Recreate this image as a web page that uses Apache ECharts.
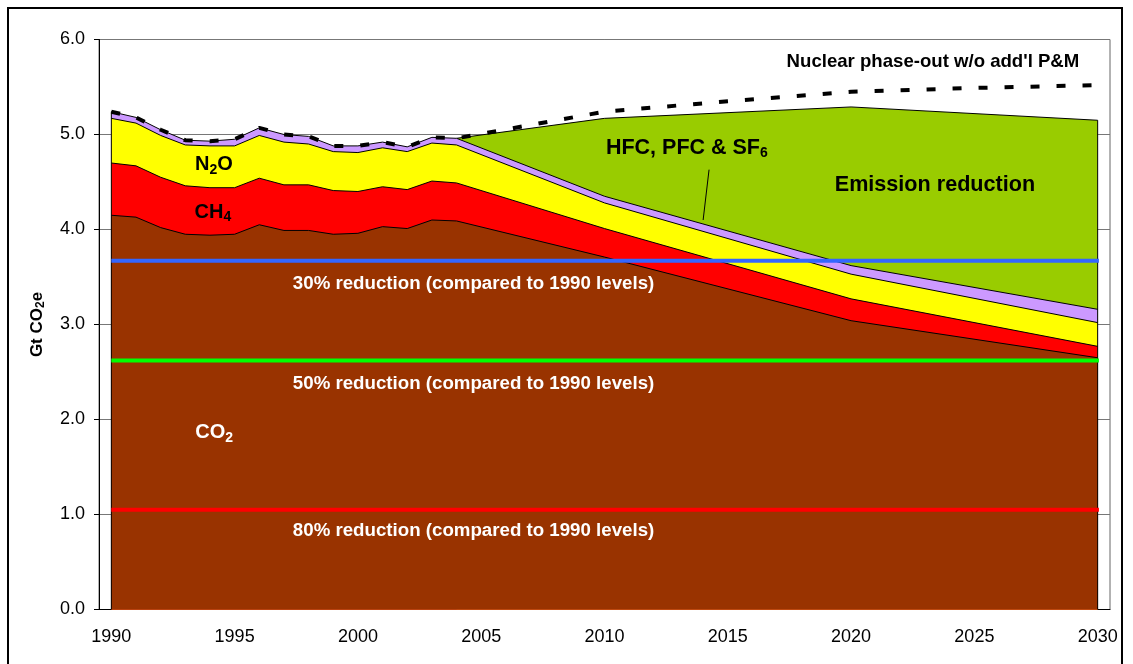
<!DOCTYPE html>
<html>
<head>
<meta charset="utf-8">
<script src="https://cdn.jsdelivr.net/npm/echarts@6/dist/echarts.min.js"></script>
<style>
  html, body { margin: 0; padding: 0; background: #fff; }
  #chart { width: 1133px; height: 664px; }
</style>
</head>
<body>
<div id="chart"></div>
<script>
// years with data points (history yearly, projections every 10 years)
const years = [1990, 1991, 1992, 1993, 1994, 1995, 1996, 1997, 1998, 1999, 2000, 2001, 2002, 2003, 2004, 2010, 2020, 2030];
const co2  = [4.15, 4.13, 4.02, 3.95, 3.94, 3.95, 4.05, 3.99, 3.99, 3.95, 3.96, 4.03, 4.01, 4.10, 4.09, 3.71, 3.04, 2.65];
const ch4  = [0.55, 0.54, 0.53, 0.51, 0.50, 0.49, 0.49, 0.48, 0.48, 0.46, 0.44, 0.42, 0.41, 0.41, 0.40, 0.30, 0.23, 0.12];
const n2o  = [0.47, 0.45, 0.44, 0.43, 0.44, 0.44, 0.45, 0.45, 0.43, 0.41, 0.41, 0.41, 0.40, 0.40, 0.40, 0.27, 0.26, 0.25];
const fgas = [0.07, 0.06, 0.06, 0.05, 0.05, 0.07, 0.08, 0.08, 0.08, 0.06, 0.07, 0.06, 0.05, 0.06, 0.07, 0.07, 0.09, 0.14];

// reference scenario (top of the "Emission reduction" wedge)
const refYears  = [2004, 2010, 2020, 2030];
const refValues = [4.96, 5.17, 5.29, 5.15];

// nuclear phase-out w/o additional P&M
const nuclearYears  = [1990, 1991, 1992, 1993, 1994, 1995, 1996, 1997, 1998, 1999, 2000, 2001, 2002, 2003, 2004, 2010, 2015, 2020, 2025, 2030];
const nuclearValues = [5.24, 5.18, 5.05, 4.94, 4.93, 4.95, 5.07, 5.00, 4.98, 4.88, 4.88, 4.92, 4.87, 4.97, 4.96, 5.24, 5.35, 5.45, 5.49, 5.52];

// reduction targets
const targetValues = [3.67, 2.62, 1.05];
const targetLabels = ['30% reduction (compared to 1990 levels)', '50% reduction (compared to 1990 levels)', '80% reduction (compared to 1990 levels)'];
const targetColors = ['#3366FF', '#00FF00', '#FF0000'];

// axis tick labels
const axisYears = [];
for (let y = 1990; y <= 2030; y++) axisYears.push(String(y));

const FONT = '"Liberation Sans", Arial, sans-serif';
const chart = echarts.init(document.getElementById('chart'));

const pairs = (xs, vs) => xs.map((x, i) => [x, vs[i]]);

// cumulative stack tops (CO2 at the bottom)
const gases = [
  { name: 'CO2', vals: co2, color: '#993300' },
  { name: 'CH4', vals: ch4, color: '#FF0000' },
  { name: 'N2O', vals: n2o, color: '#FFFF00' },
  { name: 'HFC, PFC & SF6', vals: fgas, color: '#CC99FF' }
];
let running = years.map(() => 0);
gases.forEach(gs => {
  running = running.map((r, i) => r + gs.vals[i]);
  gs.top = running.slice();
});
const total = gases[gases.length - 1].top;

const series = [
  {
    name: 'Emission reduction',
    type: 'line',
    xAxisIndex: 1,
    data: pairs(refYears, refValues),
    symbol: 'none',
    lineStyle: { color: '#000', width: 1 },
    areaStyle: { color: '#99CC00', opacity: 1 },
    z: 2
  }
];

// draw from the top layer down so lower layers paint over
gases.slice().reverse().forEach(gs => {
  series.push({
    name: gs.name,
    type: 'line',
    xAxisIndex: 1,
    data: pairs(years, gs.top),
    symbol: 'none',
    color: gs.color,
    lineStyle: { color: '#000', width: 1 },
    areaStyle: { color: gs.color, opacity: 1 },
    z: 3
  });
});

series.push(
  {
    type: 'line', xAxisIndex: 1, symbol: 'none', z: 4,
    data: [[years[0], 0], [years[0], total[0]]],
    lineStyle: { color: '#000', width: 1 }
  },
  {
    type: 'line', xAxisIndex: 1, symbol: 'none', z: 4,
    data: [[refYears[refYears.length - 1], 0], [refYears[refYears.length - 1], refValues[refValues.length - 1]]],
    lineStyle: { color: '#000', width: 1 }
  }
);

targetValues.forEach((v, i) => {
  series.push({
    name: targetLabels[i],
    type: 'line',
    xAxisIndex: 1,
    symbol: 'none',
    data: [[1990, v], [2030.05, v]],
    lineStyle: { color: targetColors[i], width: 4 },
    z: 5
  });
});

series.push({
  name: "Nuclear phase-out w/o add'l P&M",
  type: 'line',
  xAxisIndex: 1,
  symbol: 'none',
  data: pairs(nuclearYears, nuclearValues),
  lineStyle: { color: '#000', width: 4, type: [9, 17], cap: 'butt' },
  z: 6
});

chart.setOption({
  animation: false,
  textStyle: { fontFamily: FONT },
  grid: {
    left: 99, right: 23, top: 39.5, bottom: 54.5,
    show: true, borderColor: '#666', borderWidth: 1, backgroundColor: '#fff'
  },
  xAxis: [
    {
      type: 'category',
      data: axisYears,
      boundaryGap: true,
      axisLine: { lineStyle: { color: '#000', width: 1 } },
      axisTick: { interval: 0, length: 5, lineStyle: { color: '#000' } },
      axisLabel: { interval: 4, color: '#000', fontSize: 18, margin: 19, fontFamily: FONT },
      splitLine: { show: false }
    },
    { type: 'value', min: 1989.5, max: 2030.5, show: false }
  ],
  yAxis: {
    type: 'value',
    min: 0, max: 6, interval: 1,
    name: '{b|Gt CO}{s|2}{b|e}',
    nameLocation: 'middle',
    nameGap: 52,
    nameTextStyle: {
      rich: {
        b: { fontSize: 17, fontWeight: 'bold', color: '#000', lineHeight: 20, fontFamily: FONT },
        s: { fontSize: 12, fontWeight: 'bold', color: '#000', lineHeight: 12, verticalAlign: 'bottom', fontFamily: FONT }
      }
    },
    axisLine: { show: true, lineStyle: { color: '#000', width: 1 } },
    axisTick: { show: true, length: 5, lineStyle: { color: '#000' } },
    axisLabel: { color: '#000', fontSize: 18, margin: 14, fontFamily: FONT, formatter: v => v.toFixed(1) },
    splitLine: { lineStyle: { color: '#777', width: 1 } }
  },
  series: series
});

// annotations placed in data coordinates
const pt = (x, y) => chart.convertToPixel({ xAxisIndex: 1, yAxisIndex: 0 }, [x, y]);
const richLabel = (color, size) => ({
  b: { fontSize: size, fontWeight: 'bold', fill: color, lineHeight: size + 4, fontFamily: FONT },
  s: { fontSize: 14, fontWeight: 'bold', fill: color, lineHeight: 14, verticalAlign: 'bottom', fontFamily: FONT }
});

function label(text, x, y, color, size, rich) {
  const p = pt(x, y);
  const style = {
    text: text, fill: color, align: 'center', verticalAlign: 'middle',
    fontSize: size, fontWeight: 'bold', fontFamily: FONT
  };
  if (rich) style.rich = rich;
  return { type: 'text', x: p[0], y: p[1], z: 100, style: style };
}

const g = [];
g.push(label('{b|N}{s|2}{b|O}', 1994.16, 4.68, '#000', 20, richLabel('#000', 20)));
g.push(label('{b|CH}{s|4}', 1994.12, 4.18, '#000', 20, richLabel('#000', 20)));
g.push(label('{b|CO}{s|2}', 1994.17, 1.86, '#fff', 20, richLabel('#fff', 20)));
g.push(label('{b|HFC, PFC & SF}{s|6}', 2013.34, 4.86, '#000', 21.5, richLabel('#000', 21.5)));
g.push(label('Emission reduction', 2023.4, 4.47, '#000', 21.6));
g.push(label("Nuclear phase-out w/o add'l P&M", 2023.32, 5.76, '#000', 18.6));
const targetLabelPos = [3.43, 2.38, 0.83];
targetLabels.forEach((t, i) => g.push(label(t, 2004.69, targetLabelPos[i], '#fff', 18.7)));

const a = pt(2014.24, 4.63), b = pt(2014.0, 4.10);
g.push({ type: 'line', z: 100, shape: { x1: a[0], y1: a[1], x2: b[0], y2: b[1] }, style: { stroke: '#000', lineWidth: 1 } });

// outer chart frame
g.push({ type: 'rect', z: 100, shape: { x: 8, y: 8, width: 1114, height: 700 }, style: { fill: 'none', stroke: '#000', lineWidth: 2 } });

chart.setOption({ graphic: g });
</script>
</body>
</html>
